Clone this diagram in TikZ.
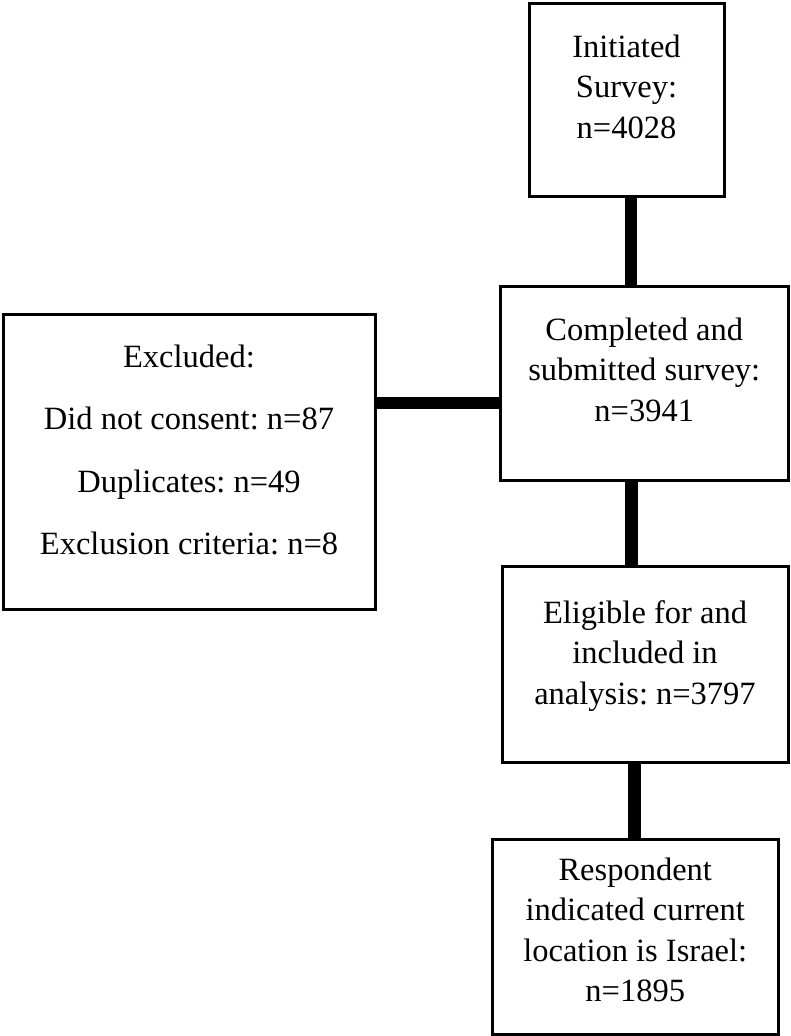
\documentclass[tikz,border=0pt]{standalone}
\usepackage{fontspec}
\setmainfont{Liberation Serif}
\frenchspacing
\begin{document}
\begin{tikzpicture}[x=1pt,y=-1pt,
  box/.style={draw=black, line width=3pt, fill=white, inner sep=0pt, outer sep=0pt},
  conn/.style={line width=12.5pt, black},
  txt/.style={font=\fontsize{32.5}{40.5}\selectfont\frenchspacing, align=center, inner sep=0pt, anchor=north}]
\useasboundingbox (0,0) rectangle (790,1036);
% boxes
\node[box, minimum width=195pt, minimum height=193pt] (b1) at (626.5,99.5) {};
\node[box, minimum width=287.5pt, minimum height=194pt] (b2) at (644.25,383) {};
\node[box, minimum width=372.5pt, minimum height=295pt] (ex) at (189.25,461.5) {};
\node[box, minimum width=286pt, minimum height=196pt] (b3) at (645,664) {};
\node[box, minimum width=285.5pt, minimum height=195pt] (b4) at (635.25,936.5) {};
% texts
\node[txt] (t1) at (626.5,28.65) {\strut Initiated\\\strut Survey:\\\strut n=4028};
\node[txt] (t2) at (644.25,311.65) {\strut Completed and\\\strut submitted survey:\\\strut n=3941};
\node[txt] (tx) at (189,338.65) {\strut Excluded:\\[22pt]\strut Did not consent: n=87\\[22pt]\strut Duplicates: n=49\\[22pt]\strut Exclusion criteria: n=8};
\node[txt] (t3) at (645,594.65) {\strut Eligible for and\\\strut included in\\\strut analysis: n=3797};
\node[txt] (t4) at (635.25,851.65) {\strut Respondent\\\strut indicated current\\\strut location is Israel:\\\strut n=1895};
% connectors
\coordinate (c1) at (631,0);
\coordinate (c2) at (631.5,0);
\coordinate (c3) at (634.5,0);
\coordinate (h) at (0,403);
\draw[conn] (b1.south -| c1) -- (b2.north -| c1);
\draw[conn] (b2.south -| c2) -- (b3.north -| c2);
\draw[conn] (b3.south -| c3) -- (b4.north -| c3);
\draw[conn] (ex.east |- h) -- (b2.west |- h);
\end{tikzpicture}
\end{document}
